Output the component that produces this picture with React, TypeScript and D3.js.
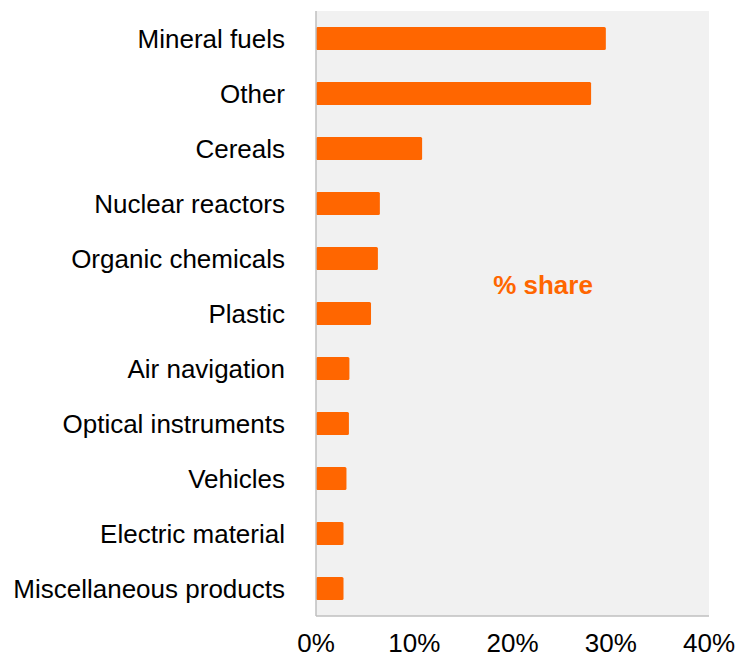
import React from "react";
import * as d3 from "d3";

const categories = [
  "Mineral fuels",
  "Other",
  "Cereals",
  "Nuclear reactors",
  "Organic chemicals",
  "Plastic",
  "Air navigation",
  "Optical instruments",
  "Vehicles",
  "Electric material",
  "Miscellaneous products",
];
const shares = [29.5, 28.0, 10.8, 6.5, 6.3, 5.6, 3.4, 3.35, 3.1, 2.8, 2.8];
const xTicks = [0, 10, 20, 30, 40];
const annotation = "% share";

export default function App() {
  const W = 738;
  const H = 658;
  const left = 316;
  const right = 709;
  const top = 11;
  const bottom = 616;
  const x = d3.scaleLinear().domain([0, 40]).range([left, right]);
  const y = d3.scaleBand().domain(categories).range([top, bottom]).paddingInner(0.58).paddingOuter(0.29);
  const font = "'Liberation Sans', Arial, sans-serif";
  return (
    <svg width={W} height={H} style={{ position: "absolute", left: 0, top: 0 }}>
      <rect x={left} y={top} width={right - left} height={bottom - top} fill="#F1F1F1" />
      {categories.map((c, i) => (
        <rect
          key={c}
          x={x(0)}
          y={y(c)}
          width={x(shares[i]) - x(0)}
          height={y.bandwidth()}
          rx={1.5}
          fill="#FF6600"
        />
      ))}
      <line x1={left} x2={left} y1={top} y2={bottom} stroke="#BFBFBF" strokeWidth={1.5} />
      <line x1={left} x2={right} y1={bottom} y2={bottom} stroke="#BFBFBF" strokeWidth={1.5} />
      {categories.map((c) => (
        <text
          key={c}
          x={285}
          y={(y(c) as number) + y.bandwidth() / 2}
          dy="0.35em"
          textAnchor="end"
          fontFamily={font}
          fontSize={26}
          fill="#000"
        >
          {c}
        </text>
      ))}
      {xTicks.map((t) => (
        <text key={t} x={x(t)} y={652} textAnchor="middle" fontFamily={font} fontSize={26} fill="#000">
          {t}%
        </text>
      ))}
      <text x={543} y={285} dy="0.35em" textAnchor="middle" fontFamily={font} fontSize={26} fontWeight="bold" fill="#FF6600">
        {annotation}
      </text>
    </svg>
  );
}
